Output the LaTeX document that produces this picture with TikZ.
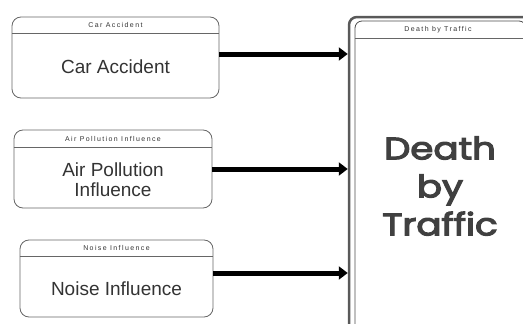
\documentclass[tikz,border=0pt]{standalone}
\usepackage{fontspec}
\setmainfont{Liberation Sans}
\newfontfamily\headfont[LetterSpace=20]{Liberation Sans}
\newfontfamily\handfont[FakeBold=3.5]{Poppins}
\usetikzlibrary{arrows.meta}

\tikzset{
  statebox/.style={draw=black!60, rounded corners=9pt, line width=0.8pt, inner sep=0pt},
  headline/.style={draw=black!60, line width=0.6pt},
  headtext/.style={font=\headfont\fontsize{7}{8}\selectfont, text=black!80},
  bodytext/.style={font=\fontsize{19}{20}\selectfont, text=black!80, align=center},
  bigtext/.style={font=\handfont\fontsize{31}{38}\selectfont, text=black!75, align=center, xscale=1.2, transform shape},
  flow/.style={line width=5pt, -{Triangle[length=9pt,width=13pt]}},
}

\begin{document}
\begin{tikzpicture}[x=1pt,y=-1pt]
\useasboundingbox (0,0) rectangle (523,324);

% sources
\node[statebox, minimum width=207pt, minimum height=81pt] (car) at (115.5,57.5) {};
\draw[headline] ([yshift=-17pt]car.north west) -- ([yshift=-17pt]car.north east);
\node[headtext] (carhead) at ([yshift=-8.5pt]car.north) {Car Accident};
\node[bodytext] (carbody) at (115.5,67) {Car Accident};

\node[statebox, minimum width=198pt, minimum height=78pt] (air) at (113,169) {};
\draw[headline] ([yshift=-18pt]air.north west) -- ([yshift=-18pt]air.north east);
\node[headtext] (airhead) at ([yshift=-9pt]air.north) {Air Pollution Influence};
\node[bodytext] (airbody) at (113,180) {Air Pollution\\Influence};

\node[statebox, minimum width=193pt, minimum height=77pt] (noise) at (116.5,278.5) {};
\draw[headline] ([yshift=-17pt]noise.north west) -- ([yshift=-17pt]noise.north east);
\node[headtext] (noisehead) at ([yshift=-8.5pt]noise.north) {Noise Influence};
\node[bodytext] (noisebody) at (116.5,289) {Noise Influence};

% target
\node[draw=black!65, line width=2.5pt, rounded corners=8pt, minimum width=251pt, minimum height=343pt] (death) at (474.5,188.5) {};
\draw[draw=black!70, line width=0.8pt, rounded corners=7pt] (355,21) rectangle (526,400);
\draw[headline] (355,38.5) -- (526,38.5);
\node[headtext] (deathhead) at (438,30) {Death by Traffic};
\node[bigtext] (deathbody) at (440,186) {Death\\by\\Traffic};

% flows
\draw[flow] ([yshift=3.5pt]car.east) -- ([yshift=3.5pt]car.east -| death.west);
\draw[flow] (air.east) -- (air.east -| death.west);
\draw[flow] ([yshift=5.5pt]noise.east) -- ([yshift=5.5pt]noise.east -| death.west);
\end{tikzpicture}
\end{document}
